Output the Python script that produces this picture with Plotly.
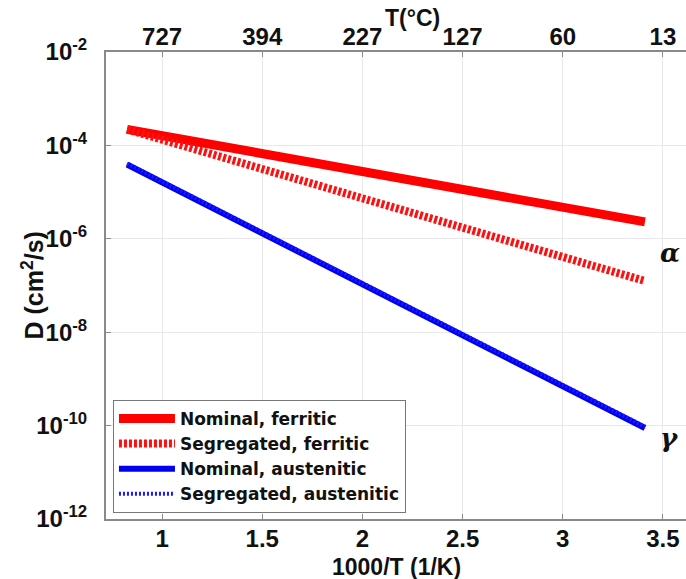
import plotly.graph_objects as go

# ---- data ----
inv_T = [0.825, 3.41]                       # 1000/T (1/K)
D_nominal_ferritic = [2.2e-4, 2.3e-6]        # cm^2/s
D_segregated_ferritic = [2.2e-4, 1.25e-7]
D_nominal_austenitic = [3.9e-5, 8.9e-11]
D_segregated_austenitic = [4.1e-5, 9.5e-11]

series_names = ["Nominal, ferritic", "Segregated, ferritic",
                "Nominal, austenitic", "Segregated, austenitic"]

x_ticks = [1, 1.5, 2, 2.5, 3, 3.5]
x_ticklabels = ["1", "1.5", "2", "2.5", "3", "3.5"]
top_ticklabels = ["727", "394", "227", "127", "60", "13"]   # T in °C
y_exponents = [-12, -10, -8, -6, -4, -2]

FONT = "Arial, Liberation Sans, sans-serif"
LEG_FONT = "DejaVu Sans, Arial, sans-serif"
AXIS_COLOR = "#8a8a8a"
GRID_COLOR = "#e8e8e8"
TXT = "#111111"

fig = go.Figure()
fig.add_trace(go.Scatter(x=inv_T, y=D_nominal_ferritic, mode="lines",
                         name=series_names[0],
                         line=dict(color="#ff0000", width=9)))
fig.add_trace(go.Scatter(x=inv_T, y=D_segregated_ferritic, mode="lines",
                         name=series_names[1],
                         line=dict(color="#ff1010", width=8, dash="3px,2px")))
fig.add_trace(go.Scatter(x=inv_T, y=D_nominal_austenitic, mode="lines",
                         name=series_names[2],
                         line=dict(color="#0000ee", width=6)))
fig.add_trace(go.Scatter(x=inv_T, y=D_segregated_austenitic, mode="lines",
                         name=series_names[3],
                         line=dict(color="#1a1aff", width=4, dash="2px,2px")))

xr = [0.72, 3.615]
tickfont = dict(size=24, family=FONT, color=TXT, weight="bold")
fig.update_layout(
    width=686, height=579,
    margin=dict(l=106, r=0, t=52, b=60),
    paper_bgcolor="white", plot_bgcolor="white",
    font=dict(family=FONT, color=TXT),
    showlegend=True,
    legend=dict(x=0.012, y=0.013, xanchor="left", yanchor="bottom",
                bgcolor="white", bordercolor="#777777", borderwidth=1,
                font=dict(size=17, family=LEG_FONT, color=TXT, weight="bold"),
                itemwidth=56, tracegroupgap=0),
    xaxis=dict(range=xr, tickvals=x_ticks, ticktext=x_ticklabels,
               showgrid=True, gridcolor=GRID_COLOR, gridwidth=1,
               showline=True, linecolor=AXIS_COLOR, linewidth=2, mirror=False,
               ticks="inside", ticklen=5, tickcolor=AXIS_COLOR,
               tickfont=tickfont, ticklabelstandoff=-3,
               zeroline=False),
    xaxis2=dict(range=xr, overlaying="x", side="top", anchor="y",
                tickvals=x_ticks, ticktext=top_ticklabels,
                showgrid=False, showline=True, linecolor=AXIS_COLOR, linewidth=2,
                ticks="inside", ticklen=5, tickcolor=AXIS_COLOR,
                tickfont=tickfont, ticklabelstandoff=-5,
                zeroline=False),
    yaxis=dict(type="log", range=[-12, -2],
               tickvals=[10.0 ** e for e in y_exponents],
               ticktext=[f"10<sup>{e}</sup>" for e in y_exponents],
               showgrid=True, gridcolor=GRID_COLOR, gridwidth=1,
               showline=True, linecolor=AXIS_COLOR, linewidth=2,
               ticks="inside", ticklen=5, tickcolor=AXIS_COLOR,
               tickfont=tickfont, ticklabelstandoff=12,
               zeroline=False),
)

# invisible trace to activate the top temperature axis
fig.add_trace(go.Scatter(x=inv_T, y=D_nominal_ferritic, xaxis="x2", mode="lines",
                         line=dict(width=0), opacity=0, showlegend=False,
                         hoverinfo="skip"))

# axis titles as annotations for exact placement
fig.add_annotation(text="<b>1000/T (1/K)</b>", xref="paper", yref="paper",
                   x=0.5, y=0.0, yanchor="middle", yshift=-48, showarrow=False,
                   font=dict(size=23, family=FONT, color=TXT))
fig.add_annotation(text="<b>D (cm<sup>2</sup>/s)</b>", xref="paper", yref="paper",
                   x=0.0, y=0.5, xanchor="center", yanchor="middle", xshift=-74,
                   textangle=-90, showarrow=False,
                   font=dict(size=25, family=FONT, color=TXT))
fig.add_annotation(text="<b>T(°C)</b>", xref="paper", yref="paper",
                   x=0.528, y=1.0, yanchor="middle", yshift=34, showarrow=False,
                   font=dict(size=23, family=FONT, color=TXT))
fig.add_annotation(text="<b><i>α</i></b>", xref="x", yref="y",
                   x=3.535, y=-6.3, showarrow=False,
                   font=dict(size=26, family="DejaVu Serif, serif", color=TXT))
fig.add_annotation(text="<b><i>γ</i></b>", xref="x", yref="y",
                   x=3.535, y=-10.26, showarrow=False,
                   font=dict(size=26, family="DejaVu Serif, serif", color=TXT))

fig.write_html("out.html", config={"displayModeBar": False},
               post_script="document.body.style.margin='0';")
